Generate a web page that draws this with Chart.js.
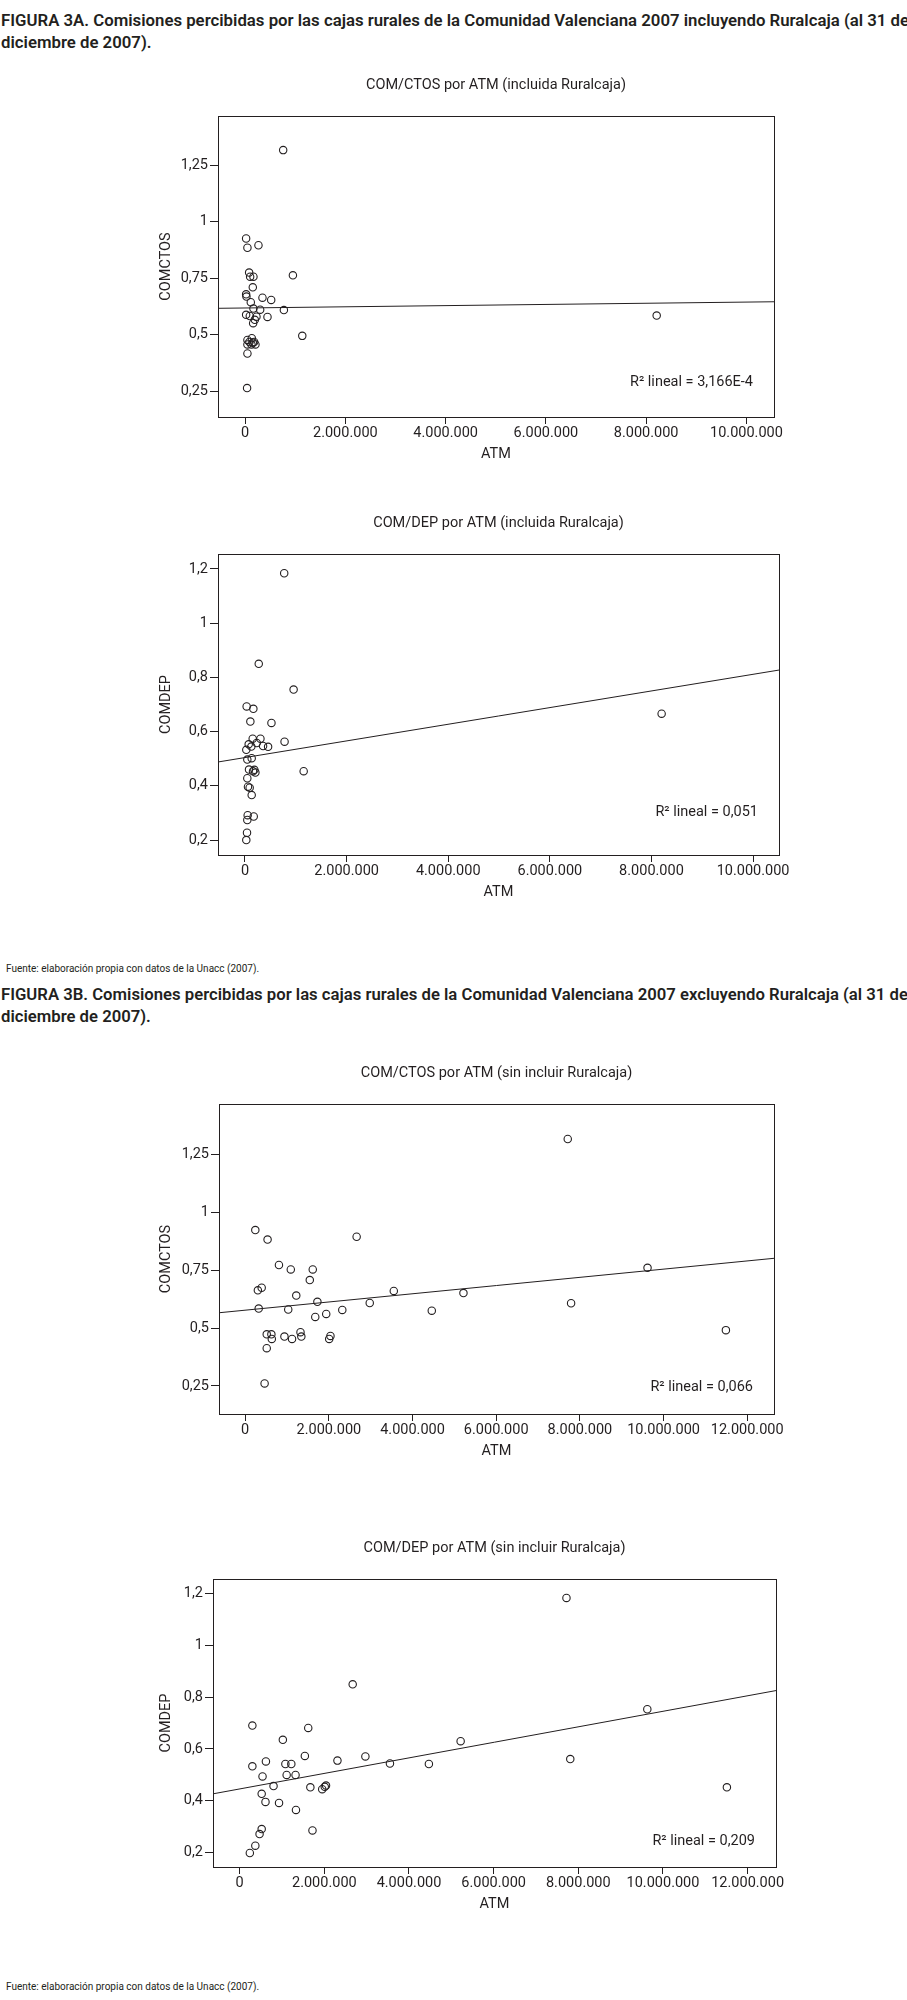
<!DOCTYPE html>
<html lang="es">
<head>
<meta charset="utf-8">
<title>Figura 3A / 3B - Comisiones por ATM</title>
<script src="https://cdn.jsdelivr.net/npm/chart.js@4.4.1/dist/chart.umd.min.js"></script>
<style>
  html, body { margin: 0; padding: 0; background: #fff; }
  body {
    width: 907px; height: 2000px; position: relative; overflow: hidden;
    font-family: Roboto, 'Liberation Sans', sans-serif; color: #231f20;
  }
  .head { position: absolute; left: 1px; width: 906px; font-weight: 600; line-height: 22px; white-space: nowrap; overflow: hidden; }
  .head span { display: block; }
  .src { position: absolute; left: 6px; font-size: 10px; line-height: 12px; white-space: nowrap; }
  canvas { position: absolute; left: 0; }
</style>
</head>
<body>

<div class="head" style="top:9px">
  <span class="fit">FIGURA 3A. Comisiones percibidas por las cajas rurales de la Comunidad Valenciana 2007 incluyendo Ruralcaja (al 31 de</span>
  <span>diciembre de 2007).</span>
</div>
<canvas id="chartCtosIncl"></canvas>
<canvas id="chartDepIncl"></canvas>
<div class="src" style="top:963px">Fuente: elaboración propia con datos de la Unacc (2007).</div>

<div class="head" style="top:984px">
  <span class="fit">FIGURA 3B. Comisiones percibidas por las cajas rurales de la Comunidad Valenciana 2007 excluyendo Ruralcaja (al 31 de</span>
  <span>diciembre de 2007).</span>
</div>
<canvas id="chartCtosExcl"></canvas>
<canvas id="chartDepExcl"></canvas>
<div class="src" style="top:1981px">Fuente: elaboración propia con datos de la Unacc (2007).</div>

<script>
const ink = '#231f20';
const fontFamily = "Roboto, 'Liberation Sans', sans-serif";

// Figura 3A (incluida Ruralcaja)
const atmCtosIncl = [760000, 21000, 47000, 267000, 81000, 101000, 167000, 954000, 154000, 21000,
    27000, 347000, 521000, 114000, 167000, 301000, 774000, 21000, 94000, 227000,
    447000, 194000, 161000, 1141000, 47000, 134000, 87000, 181000, 207000, 47000,
    127000, 154000, 47000, 40000, 8210000];
const comctosIncl = [1.316, 0.925, 0.884, 0.895, 0.774, 0.756, 0.756, 0.762, 0.709, 0.678,
    0.668, 0.663, 0.653, 0.643, 0.615, 0.610, 0.608, 0.587, 0.582, 0.579,
    0.578, 0.565, 0.550, 0.494, 0.476, 0.484, 0.467, 0.467, 0.456, 0.456,
    0.456, 0.464, 0.416, 0.263, 0.584];

const atmDepIncl = [772000, 271000, 957000, 33000, 165000, 106000, 521000, 152000, 304000, 779000,
    73000, 231000, 125000, 356000, 455000, 26000, 46000, 132000, 1155000, 79000,
    185000, 205000, 158000, 46000, 59000, 92000, 132000, 53000, 172000, 46000,
    40000, 26000, 8200000];
const comdepIncl = [1.184, 0.850, 0.755, 0.693, 0.684, 0.637, 0.632, 0.574, 0.574, 0.563,
    0.553, 0.558, 0.545, 0.547, 0.544, 0.533, 0.497, 0.502, 0.454, 0.460,
    0.459, 0.449, 0.454, 0.428, 0.397, 0.393, 0.366, 0.292, 0.287, 0.274,
    0.227, 0.200, 0.666];

// Figura 3B (sin incluir Ruralcaja)
const atmCtosExcl = [7710000, 242000, 535000, 2664000, 807000, 1090000, 1615000, 9617000, 1544000, 303000,
    394000, 3552000, 5217000, 1221000, 1726000, 2977000, 7790000, 323000, 1029000, 2321000,
    4460000, 1937000, 1675000, 11490000, 1322000, 515000, 626000, 938000, 1342000, 2038000,
    636000, 1120000, 2008000, 515000, 464000];
const comctosExcl = [1.316, 0.923, 0.882, 0.894, 0.772, 0.753, 0.753, 0.760, 0.707, 0.663,
    0.674, 0.660, 0.651, 0.640, 0.613, 0.608, 0.607, 0.584, 0.580, 0.578,
    0.575, 0.561, 0.548, 0.491, 0.482, 0.473, 0.473, 0.463, 0.463, 0.466,
    0.453, 0.453, 0.453, 0.413, 0.261];

const atmDepExcl = [7720000, 2670000, 9630000, 300000, 1620000, 1020000, 5220000, 1540000, 2970000, 7810000,
    620000, 2310000, 3550000, 4470000, 1080000, 1220000, 300000, 1110000, 1320000, 540000,
    800000, 1670000, 11510000, 1950000, 2010000, 2040000, 520000, 610000, 930000, 1330000,
    520000, 1720000, 470000, 370000, 240000];
const comdepExcl = [1.182, 0.849, 0.753, 0.690, 0.681, 0.635, 0.630, 0.573, 0.571, 0.561,
    0.552, 0.555, 0.544, 0.542, 0.542, 0.542, 0.533, 0.500, 0.500, 0.494,
    0.457, 0.452, 0.452, 0.445, 0.454, 0.459, 0.427, 0.396, 0.392, 0.365,
    0.291, 0.286, 0.272, 0.227, 0.199];

// rectas de ajuste lineal, extremos
const fitCtosInclX = [-540000, 10550000];
const fitCtosInclY = [0.616, 0.645];
const fitDepInclX = [-531000, 10510000];
const fitDepInclY = [0.488, 0.827];
const fitCtosExclX = [-626000, 12640000];
const fitCtosExclY = [0.566, 0.801];
const fitDepExclX = [-630000, 12670000];
const fitDepExclY = [0.427, 0.825];

const xTicksIncl = [0, 2000000, 4000000, 6000000, 8000000, 10000000];
const xTicksExcl = [0, 2000000, 4000000, 6000000, 8000000, 10000000, 12000000];
const yTicksCtos = [0.25, 0.5, 0.75, 1, 1.25];
const yLabelsCtos = ['0,25', '0,5', '0,75', '1', '1,25'];
const yTicksDep = [0.2, 0.4, 0.6, 0.8, 1, 1.2];
const yLabelsDep = ['0,2', '0,4', '0,6', '0,8', '1', '1,2'];

const fmtThousands = v => String(v).replace(/\B(?=(\d{3})+(?!\d))/g, '.');
const toPoints = (xs, ys) => xs.map((x, i) => ({ x: x, y: ys[i] }));

// marco completo + texto R2 dentro del area
const frameR2Plugin = {
    id: 'frameR2',
    afterDatasetsDraw(chart, args, opts) {
        const { ctx, chartArea: a } = chart;
        ctx.save();
        ctx.strokeStyle = ink;
        ctx.lineWidth = 1;
        ctx.strokeRect(Math.round(a.left) + 0.5, Math.round(a.top) + 0.5,
            Math.round(a.right - a.left), Math.round(a.bottom - a.top));
        ctx.font = '14.5px ' + fontFamily;
        ctx.fillStyle = ink;
        ctx.textAlign = 'right';
        ctx.textBaseline = 'middle';
        ctx.fillText(opts.text, a.right - 21, a.bottom - opts.up);
        ctx.restore();
    }
};

function makeChart(id, c) {
    const canvas = document.getElementById(id);
    const font = { family: fontFamily, size: 14.5 };
    canvas.width = 907;
    canvas.height = c.bottom - c.top + 110;
    canvas.style.top = (c.top - 50) + 'px';
    canvas.style.width = '907px';
    canvas.style.height = canvas.height + 'px';

    return new Chart(canvas, {
        type: 'scatter',
        data: {
            datasets: [{
                data: toPoints(c.xs, c.ys),
                pointStyle: 'circle',
                pointRadius: 3.7,
                pointBorderWidth: 1.1,
                pointBorderColor: ink,
                pointBackgroundColor: 'rgba(255,255,255,0)',
                pointHoverRadius: 3.7
            }, {
                type: 'line',
                data: toPoints(c.fitX, c.fitY),
                showLine: true,
                borderColor: ink,
                borderWidth: 1,
                pointRadius: 0,
                fill: false
            }]
        },
        options: {
            responsive: false,
            animation: false,
            devicePixelRatio: 1,
            events: [],
            layout: { padding: { left: 0, right: 907 - c.right, top: 0, bottom: 0 } },
            scales: {
                x: {
                    type: 'linear',
                    position: 'bottom',
                    min: c.xMin,
                    max: c.xMax,
                    afterBuildTicks: s => { s.ticks = c.xTicks.map(v => ({ value: v })); },
                    afterFit: s => { s.height = 60; },
                    ticks: { callback: v => fmtThousands(v), autoSkip: false, maxRotation: 0, color: ink, font: font, padding: 1 },
                    grid: { drawOnChartArea: false, tickLength: 7, color: ink, tickColor: ink },
                    border: { display: false },
                    title: { display: true, text: 'ATM', color: ink, font: font, padding: { top: 0, bottom: 14.3 } }
                },
                y: {
                    type: 'linear',
                    min: c.yMin,
                    max: c.yMax,
                    afterBuildTicks: s => { s.ticks = c.yTicks.map(v => ({ value: v })); },
                    afterFit: s => { s.width = c.left; },
                    ticks: { callback: (v, i) => c.yLabels[i], color: ink, font: font, padding: 2 },
                    grid: { drawOnChartArea: false, tickLength: 8, color: ink, tickColor: ink },
                    border: { display: false },
                    title: { display: true, text: c.yTitle, color: ink, font: font, padding: { top: 157.3, bottom: 0 } }
                }
            },
            plugins: {
                legend: { display: false },
                tooltip: { enabled: false },
                title: {
                    display: true,
                    fullSize: false,
                    text: c.title,
                    color: ink,
                    font: { family: fontFamily, size: 14.5, weight: 'normal' },
                    padding: { top: 10.3, bottom: 22.3 }
                },
                frameR2: { text: c.r2, up: c.r2Up }
            }
        },
        plugins: [frameR2Plugin]
    });
}

function fitHeadings() {
    document.querySelectorAll('.head').forEach(el => {
        const line = el.querySelector('.fit');
        el.style.fontSize = '20px';
        const w = line.scrollWidth;
        el.style.fontSize = (20 * 908 / w).toFixed(2) + 'px';
    });
}

function renderAll() {
    fitHeadings();

    makeChart('chartCtosIncl', {
        title: 'COM/CTOS por ATM (incluida Ruralcaja)', yTitle: 'COMCTOS',
        xs: atmCtosIncl, ys: comctosIncl, fitX: fitCtosInclX, fitY: fitCtosInclY,
        xTicks: xTicksIncl, yTicks: yTicksCtos, yLabels: yLabelsCtos,
        xMin: -540000, xMax: 10550000, yMin: 0.135, yMax: 1.467,
        left: 218, right: 774, top: 116, bottom: 417,
        r2: 'R² lineal = 3,166E-4', r2Up: 35
    });

    makeChart('chartDepIncl', {
        title: 'COM/DEP por ATM (incluida Ruralcaja)', yTitle: 'COMDEP',
        xs: atmDepIncl, ys: comdepIncl, fitX: fitDepInclX, fitY: fitDepInclY,
        xTicks: xTicksIncl, yTicks: yTicksDep, yLabels: yLabelsDep,
        xMin: -531000, xMax: 10510000, yMin: 0.145, yMax: 1.255,
        left: 218, right: 779, top: 554, bottom: 855,
        r2: 'R² lineal = 0,051', r2Up: 43
    });

    makeChart('chartCtosExcl', {
        title: 'COM/CTOS por ATM (sin incluir Ruralcaja)', yTitle: 'COMCTOS',
        xs: atmCtosExcl, ys: comctosExcl, fitX: fitCtosExclX, fitY: fitCtosExclY,
        xTicks: xTicksExcl, yTicks: yTicksCtos, yLabels: yLabelsCtos,
        xMin: -626000, xMax: 12640000, yMin: 0.129, yMax: 1.467,
        left: 219, right: 774, top: 1104, bottom: 1414,
        r2: 'R² lineal = 0,066', r2Up: 27
    });

    makeChart('chartDepExcl', {
        title: 'COM/DEP por ATM (sin incluir Ruralcaja)', yTitle: 'COMDEP',
        xs: atmDepExcl, ys: comdepExcl, fitX: fitDepExclX, fitY: fitDepExclY,
        xTicks: xTicksExcl, yTicks: yTicksDep, yLabels: yLabelsDep,
        xMin: -630000, xMax: 12670000, yMin: 0.145, yMax: 1.255,
        left: 213, right: 776, top: 1579, bottom: 1867,
        r2: 'R² lineal = 0,209', r2Up: 26
    });
}

document.addEventListener('DOMContentLoaded', renderAll);
</script>
</body>
</html>
